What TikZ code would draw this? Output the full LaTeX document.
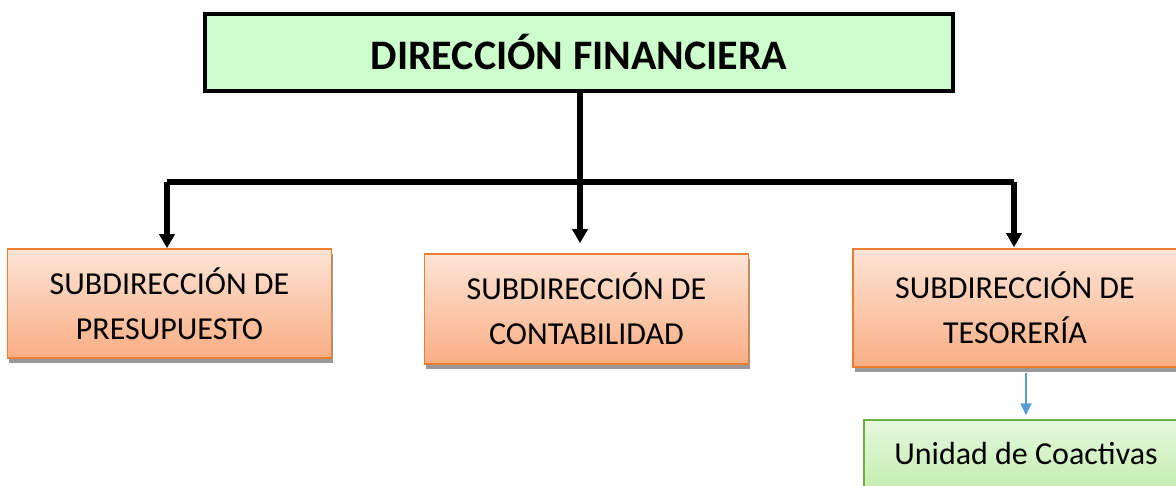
\documentclass[tikz,border=0pt]{standalone}
\usepackage{fontspec}
\setmainfont{Carlito}
\usetikzlibrary{arrows.meta,shadows}
\definecolor{titlefill}{RGB}{204,255,204}
\definecolor{orgborder}{RGB}{237,125,49}
\definecolor{orgtop}{RGB}{253,228,214}
\definecolor{orgbot}{RGB}{249,174,132}
\definecolor{grnborder}{RGB}{112,173,71}
\definecolor{grntop}{RGB}{230,248,222}
\definecolor{grnbot}{RGB}{196,238,176}
\definecolor{blueline}{RGB}{91,155,213}
\tikzset{
  titlebox/.style={draw=black, line width=4.5pt, fill=titlefill, minimum width=748pt, minimum height=77pt, inner sep=0pt,
    font=\fontsize{42}{48}\selectfont\bfseries},
  subbox/.style={draw=orgborder, line width=1.6pt, top color=orgtop, bottom color=orgbot,
    minimum width=324pt, inner sep=0pt, align=center,
    font=\fontsize{32}{45}\selectfont,
    drop shadow={shadow xshift=1.5pt, shadow yshift=-5pt, fill=black!40, opacity=1}},
  unitbox/.style={draw=grnborder, line width=1.4pt, top color=grntop, bottom color=grnbot,
    minimum width=324pt, minimum height=68pt, inner sep=0pt, font=\fontsize{32}{38}\selectfont},
  conn/.style={draw=black, line width=5.5pt},
  connarrow/.style={conn, -{Triangle[width=15pt,length=14pt]}},
  bluearrow/.style={draw=blueline, line width=1.8pt, -{Triangle[width=11pt,length=12pt]}}
}
\begin{document}
\begin{tikzpicture}[x=1pt,y=-1pt]
\useasboundingbox (0,0) rectangle (1176,486);
% boxes
\node[titlebox] (dir) at (579,52.5) {DIRECCIÓN FINANCIERA};
\node[subbox, minimum height=109pt] (pres) at (169.5,303.5) {SUBDIRECCIÓN DE\\PRESUPUESTO};
\node[subbox, minimum height=110pt] (cont) at (586.5,309) {SUBDIRECCIÓN DE\\CONTABILIDAD};
\node[subbox, minimum height=118pt] (teso) at (1015,308) {SUBDIRECCIÓN DE\\TESORERÍA};
\node[unitbox] (unit) at (1026,454) {Unidad de Coactivas};
% connectors
\coordinate (j) at (580,182);
\coordinate (jl) at (167,182);
\coordinate (jr) at (1014,182);
\draw[conn] (j |- dir.south) -- (j);
\draw[conn] (jl) -- (jr);
\draw[connarrow] (jl) -- (jl |- pres.north);
\draw[connarrow, shorten >=10pt] (j) -- (j |- cont.north);
\draw[connarrow, shorten >=1pt] (jr) -- (jr |- teso.north);
\draw[bluearrow, shorten <=5pt, shorten >=4pt] (unit.north |- teso.south) -- (unit.north);
\end{tikzpicture}
\end{document}
